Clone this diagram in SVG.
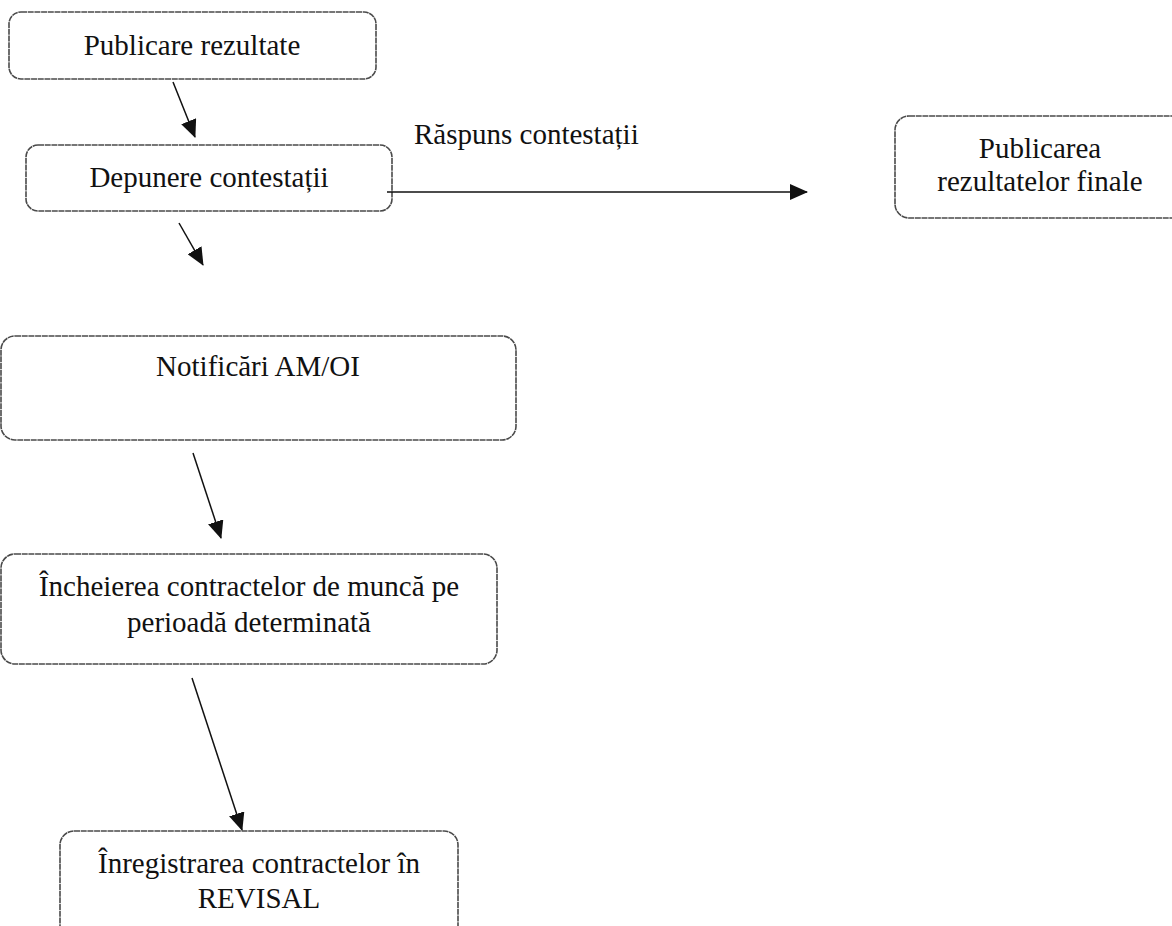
<svg xmlns="http://www.w3.org/2000/svg" width="1172" height="926" viewBox="0 0 1172 926">
<style>
.box{fill:none;stroke:#4a4a4a;stroke-width:1.6;stroke-dasharray:6 0.7}
.t{font-family:"Liberation Serif","Times New Roman",serif;font-size:29px;fill:#111;text-anchor:middle}
.c{stroke:#111;stroke-width:1.5;fill:none;marker-end:url(#ah)}
</style>
<defs>
<marker id="ah" markerUnits="userSpaceOnUse" markerWidth="20" markerHeight="16" refX="17" refY="8" orient="auto">
<path d="M0,0 L18,8 L0,16 Z" fill="#111"/>
</marker>
</defs>
<rect width="1172" height="926" fill="#fff"/>
<g id="n1"><rect class="box" x="9" y="12" width="367" height="67" rx="12"/><text class="t" x="192" y="55">Publicare rezultate</text></g>
<g id="n2"><rect class="box" x="26" y="145" width="366" height="66" rx="12"/><text class="t" x="209" y="187">Depunere contestații</text></g>
<g id="n3"><rect class="box" x="895" y="116" width="300" height="102" rx="14"/><text class="t" x="1040" y="158">Publicarea</text><text class="t" x="1040" y="191">rezultatelor finale</text></g>
<g id="n4"><rect class="box" x="1" y="336" width="515" height="104" rx="14"/><text class="t" x="258" y="376">Notificări AM/OI</text></g>
<g id="n5"><rect class="box" x="1" y="554" width="496" height="110" rx="14"/><text class="t" x="249" y="596">Încheierea contractelor de muncă pe</text><text class="t" x="249" y="632">perioadă determinată</text></g>
<g id="n6"><rect class="box" x="60" y="831" width="398" height="110" rx="14"/><text class="t" x="259" y="873">Înregistrarea contractelor în</text><text class="t" x="259" y="908">REVISAL</text></g>
<g id="connectors">
<line class="c" x1="173" y1="82" x2="195" y2="137"/>
<line class="c" x1="179" y1="223" x2="203" y2="265"/>
<line class="c" x1="387" y1="192" x2="807" y2="192"/>
<line class="c" x1="193" y1="453" x2="221" y2="538"/>
<line class="c" x1="192" y1="678" x2="242" y2="830"/>
<text class="t" x="414" y="144" style="text-anchor:start">Răspuns contestații</text>
</g>
</svg>
